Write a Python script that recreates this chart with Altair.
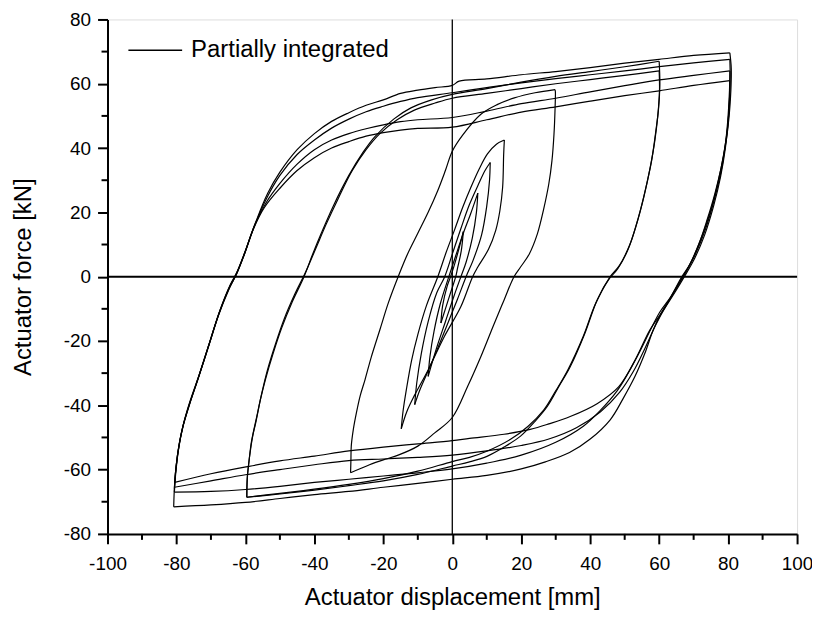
import altair as alt
import pandas as pd

# ---------------- data (x: displacement mm, y: force kN) ----
asc80_a = [(-80.6,-66),(-80.2,-60),(-79.2,-52),(-78,-46),(-76,-39),(-73.5,-31),(-70.5,-21),
           (-67.5,-11),(-64.5,-3),(-62.5,1),(-60,8),(-57,17),(-53.5,26),(-50,32.5),(-45,39.5),
           (-40,44.5),(-35,48.3),(-30,51),(-25,53.3),(-20,55),(-15,57),(-10,58),(-5,58.8),
           (0,59.5),(2,60.8),(10,61.5),(20,62.8),(30,63.8),(40,65),(50,66.4),(60,67.6),
           (70,68.8),(80.5,69.6)]
asc80_b = [(-80.8,-71.6),(-80.5,-64),(-79.5,-54),(-78.2,-47),(-76.3,-40),(-73.8,-32),
           (-70.8,-22),(-67.8,-12),(-64.8,-4),(-62.8,0.5),(-60.2,7.5),(-57.3,16),(-53.8,24.5),
           (-50,31.5),(-45,38),(-40,42.5),(-35,46.2),(-30,49),(-25,51.3),(-20,53),(-15,54.5),
           (-10,55.7),(0,57.2),(10,58.8),(20,60.3),(30,61.6),(40,62.8),(50,64),(60,65.3),
           (70,66.5),(80.5,67.6)]
asc80_c = [(-80.6,-67),(-80.2,-61),(-79.3,-53),(-78.1,-46.5),(-76.2,-39.5),(-73.7,-31.5),
           (-70.7,-21.5),(-67.7,-11.5),(-64.7,-3.5),(-62.7,0.5),(-60.3,7),(-57.5,15.5),
           (-54,23),(-50,29),(-45,35),(-40,39.5),(-35,42.5),(-30,44.5),(-25,46),(-20,47.2),
           (-15,48.2),(-10,48.8),(0,49.5),(10,51.5),(20,53.8),(30,55.5),(40,57.5),(50,59.4),
           (60,61.2),(70,62.6),(80.5,64)]
asc80_d = [(-80.5,-64),(-80.1,-59),(-79.1,-51.5),(-77.9,-45.5),(-76,-38.5),(-73.4,-30.5),
           (-70.4,-20.5),(-67.4,-10.5),(-64.4,-2.5),(-62.4,1.5),(-60.1,7.5),(-57.8,14.5),
           (-54.5,21.5),(-50,27.5),(-45,33),(-40,37),(-35,40),(-30,42),(-25,43.7),(-20,44.8),
           (-15,45.6),(-10,46.1),(0,46.5),(10,48.8),(20,51.2),(30,52.8),(40,54.6),(50,56.3),
           (60,57.8),(70,59.5),(80.5,61)]

desc80_a = [(80.5,69.6),(80.9,65),(80.8,58),(80.3,50),(79.4,42),(78,34),(76.2,26),(74,18),
            (71.5,10),(68.5,3),(66,-1.5),(63,-7),(60.5,-11.5),(58.3,-16.5),(55.8,-24),(53,-31),
            (49.5,-38),(45.8,-44.5),(40,-50.5),(34,-54.7),(27,-57.6),(20,-59.8),(10,-61.8),
            (0,-63),(-10,-64.3),(-20,-65.5),(-30,-66.8),(-40,-67.8),(-50,-69),(-60,-70.2),
            (-70,-71),(-80.8,-71.6)]
desc80_b = [(80.5,67.6),(80.6,62),(80.4,55),(79.8,46),(78.7,38),(77,29),(74.8,20),(72,11.5),
            (69,4),(66.3,-0.5),(63.5,-6),(60.2,-11),(57.5,-16.5),(54.5,-23),(51,-30),
            (47.8,-35.5),(43,-41.5),(38,-46.5),(30,-51.5),(20,-55.5),(10,-58),(0,-59.8),
            (-10,-61),(-20,-62),(-30,-63),(-40,-64),(-50,-65.2),(-60,-66.2),(-70,-66.8),
            (-80.6,-67)]
desc80_c = [(80.5,64),(80.4,58),(80,50),(79.3,42),(78,33),(76,24),(73.5,15),(70.5,7),
            (67.5,1),(64.8,-4),(62,-9),(59,-15),(56,-22),(52.5,-29.5),(48.5,-36),(43,-42),
            (36,-47),(28,-50.5),(20,-52.5),(10,-54.2),(0,-55.5),(-10,-56.2),(-20,-56.7),
            (-30,-57.2),(-40,-58.5),(-50,-60),(-60,-61.6),(-70,-63.5),(-80.6,-65.5)]
desc80_d = [(80.5,61),(80.4,55),(80,48),(79.2,40),(77.8,31),(75.8,22),(73.2,13),(70.2,5.5),
            (67.3,0),(64.5,-5),(61.5,-10),(57.3,-16.6),(53,-26),(48.3,-34.2),(42,-39.5),
            (34.2,-43.5),(28,-45.8),(22.6,-47.5),(15,-49),(5,-50.3),(0,-51),(-10,-52),
            (-20,-53),(-30,-54.2),(-40,-55.8),(-50,-57.3),(-59,-59),(-70,-61.3),(-80.5,-64)]

asc60_a = [(-59.6,-68.6),(-59.5,-63),(-59,-57.8),(-58.2,-51),(-57,-45.4),(-55.7,-38.5),
           (-54.2,-32),(-52,-24),(-49.5,-16),(-46.5,-8),(-43,0),(-40.5,7),(-38,13.5),
           (-34.5,22),(-30,31.5),(-26,38.5),(-22.5,43.5),(-17,49),(-12,52.5),(-6,55),(0,56.7),
           (10,58.5),(20,60.5),(30,62.3),(40,63.8),(50,65.3),(60,67)]
asc60_b = [(-59.6,-68.6),(-59.4,-62),(-58.8,-56),(-57.8,-49),(-56.6,-43),(-55.2,-36),
           (-53.6,-29),(-51.3,-21),(-48.7,-13),(-45.7,-5.5),(-42.5,1.5),(-39.5,9),(-36.5,16.5),
           (-33,24.5),(-29,33),(-25,39.5),(-21,44.5),(-16,48.8),(-11,51.8),(-5,54),(0,55.5),
           (10,57),(20,58.5),(30,60),(40,61.3),(50,62.6),(60,64)]
desc60_a = [(60,67),(60.2,60),(59.8,52),(59,45),(57.8,36),(56,27),(54,18.5),(51.5,10),
            (48.5,3.5),(45.8,0),(42,-7.3),(38.5,-17.5),(34.2,-28),(31,-34),(27.6,-40.3),
            (24,-45),(19.8,-49.6),(15,-53),(10.2,-55.8),(5,-57.6),(0,-58.9),(-10,-61.5),
            (-20,-63.5),(-30,-65),(-40,-66.4),(-50,-67.6),(-59.6,-68.6)]
desc60_b = [(60,64),(60.1,58),(59.6,50),(58.7,42),(57.4,34),(55.6,25),(53.5,16.5),(51,8.5),
            (48,2.5),(45.3,-1),(41.5,-8.5),(38,-18.5),(33.5,-29),(30,-35.5),(26.5,-41.5),
            (22,-46.5),(17,-50.5),(10,-54.3),(5,-56.2),(0,-57.5),(-10,-60.5),(-20,-62.8),
            (-30,-64.6),(-40,-66.1),(-50,-67.4),(-59.6,-68.6)]

asc30 = [(-29.5,-61),(-29.4,-57),(-29.3,-52.7),(-28.7,-47.5),(-27.8,-42.3),(-26.7,-37),
         (-25.3,-32),(-23.5,-25),(-21,-16.5),(-18.5,-8),(-15.7,0),(-13,7),(-10,13.5),(-7,20),
         (-4.2,26.8),(-2,33),(0,39),(3,44),(8.3,50.5),(13,53.5),(18,55.6),(24,57.2),(29.8,58.2)]
desc30 = [(29.8,58.2),(29.9,57.5),(29.8,52),(29.5,44.4),(28.9,36),(28,28.9),(26.5,21),
          (24.7,13.4),(22.3,7),(19.8,3),(17.9,0),(15,-7.3),(12,-15),(8.3,-24.8),(4.5,-34),
          (0,-43.8),(-5,-48.5),(-10,-52.7),(-15.7,-55.5),(-19.5,-56.8),(-24,-58.5),(-29.5,-61)]

asc15 = [(-14.8,-47.3),(-14.3,-42),(-13.3,-35),(-11.8,-26),(-10,-18),(-7.5,-9),(-4.2,0),
         (-1.8,7.5),(0.6,14.4),(3,21.5),(5.4,27.8),(7.8,33.5),(10.2,38.2),(12.8,41.2),(15.1,42.5)]
desc15 = [(15.1,42.5),(14.9,38),(14.6,27.8),(13.8,20.5),(12.6,14.4),(10.5,8.5),(7.4,3),
          (5.9,0),(2.5,-9.3),(-2.3,-18.6),(-7,-29),(-11,-37),(-13.2,-42),(-14.8,-47.3)]
asc11 = [(-10.9,-39.8),(-10.3,-33),(-9,-24),(-7,-14),(-4.5,-5),(-2.2,0),(0,7),(2.5,15),
         (5,22.5),(7.5,28.5),(9.5,33),(11,35.5)]
desc11 = [(11,35.5),(10.8,30),(10,22),(8.5,13),(6,5),(4,0),(1.5,-7),(-1.5,-15),(-4.5,-23),
          (-7.5,-30.5),(-9.5,-35.5),(-10.9,-39.8)]
asc7 = [(-7,-31),(-6.5,-25),(-5.3,-17),(-3.5,-8.5),(-1,0),(1,6.5),(3.2,13.5),(5.3,19.5),(7.4,26)]
desc7 = [(7.4,26),(7,20),(5.8,12),(4,4.5),(2.5,0),(0.5,-6),(-2,-14),(-4.5,-22),(-7,-31)]
asc3 = [(-3.3,-14.4),(-2.8,-9),(-1.5,-3),(-0.5,0),(0.7,4),(2,9),(3.2,14)]
desc3 = [(3.2,14),(2.6,8),(1.5,2.5),(1,0),(-0.5,-5),(-2,-10),(-3.3,-14.4)]

branches = {
    "asc3": asc3, "desc3": desc3, "asc7": asc7, "desc7": desc7,
    "asc11": asc11, "desc11": desc11, "asc15": asc15, "desc15": desc15,
    "asc30": asc30, "desc30": desc30,
    "asc60_a": asc60_a, "desc60_a": desc60_a, "asc60_b": asc60_b, "desc60_b": desc60_b,
    "asc80_a": asc80_a, "desc80_a": desc80_a, "asc80_b": asc80_b, "desc80_b": desc80_b,
    "asc80_c": asc80_c, "desc80_c": desc80_c, "asc80_d": asc80_d, "desc80_d": desc80_d,
}
series_name = "Partially integrated"
x_major = [-100, -80, -60, -40, -20, 0, 20, 40, 60, 80, 100]
x_minor = [-90, -70, -50, -30, -10, 10, 30, 50, 70, 90]
y_major = [-80, -60, -40, -20, 0, 20, 40, 60, 80]
y_minor = [-70, -50, -30, -10, 10, 30, 50, 70]

rows = []
for name, pts in branches.items():
    for i, (xv, yv) in enumerate(pts):
        rows.append({"branch": name, "i": i, "x": xv, "y": yv, "series": series_name})
df = pd.DataFrame(rows)

W, H = 693, 517
FONT = "Liberation Sans"
xs = alt.Scale(domain=[-100, 100], nice=False, zero=False)
ys = alt.Scale(domain=[-80, 80], nice=False, zero=False)

xaxis = alt.Axis(values=x_major, title="Actuator displacement [mm]", labelExpr="'' + datum.value",
                 grid=False, tickSize=10, tickWidth=2, domainWidth=2, domainColor="black",
                 tickColor="black", labelFontSize=19, labelFont=FONT, labelColor="black",
                 labelPadding=11, labelFlush=False, labelOverlap=False,
                 titleFontSize=24, titleFont=FONT, titleFontWeight="normal",
                 titleColor="black", titlePadding=12)
yaxis = alt.Axis(values=y_major, title="Actuator force [kN]", labelExpr="'' + datum.value",
                 grid=False, tickSize=10, tickWidth=2, domainWidth=2, domainColor="black",
                 tickColor="black", labelFontSize=19, labelFont=FONT, labelColor="black",
                 labelPadding=7, labelFlush=False, labelOverlap=False,
                 titleFontSize=24, titleFont=FONT, titleFontWeight="normal",
                 titleColor="black", titlePadding=28)

lines = alt.Chart(df).mark_line(strokeWidth=1.2, interpolate="catmull-rom").encode(
    x=alt.X("x:Q", scale=xs, axis=xaxis),
    y=alt.Y("y:Q", scale=ys, axis=yaxis),
    detail="branch:N",
    order="i:Q",
    color=alt.Color("series:N", scale=alt.Scale(domain=[series_name], range=["black"]),
                    legend=alt.Legend(title=None, orient="none", legendX=20, legendY=3,
                                      symbolType="stroke", symbolSize=2916,
                                      symbolStrokeWidth=1.5, symbolStrokeColor="black",
                                      labelFontSize=24, labelFont=FONT, labelColor="black",
                                      labelOffset=8, labelLimit=0, padding=0)),
)

zero_h = alt.Chart(pd.DataFrame({"y": [0]})).mark_rule(color="black", strokeWidth=2).encode(
    y=alt.Y("y:Q", scale=ys))
zero_v = alt.Chart(pd.DataFrame({"x": [0]})).mark_rule(color="black", strokeWidth=1.3).encode(
    x=alt.X("x:Q", scale=xs))

xminor = alt.Chart(pd.DataFrame({"x": x_minor})).mark_rule(color="black", strokeWidth=2).encode(
    x=alt.X("x:Q", scale=xs), y=alt.value(H), y2=alt.value(H + 6))
yminor = alt.Chart(pd.DataFrame({"y": y_minor})).mark_rule(color="black", strokeWidth=2).encode(
    y=alt.Y("y:Q", scale=ys), x=alt.value(0), x2=alt.value(-6))

chart = alt.layer(zero_h, zero_v, lines, xminor, yminor).properties(
    width=W, height=H,
    padding={"left": 100, "top": 10, "right": 15, "bottom": 80},
    autosize=alt.AutoSizeParams(type="none"),
).configure_view(stroke="black", strokeWidth=2).configure(background="white")

chart.save("out.html", embed_options={"renderer": "svg", "actions": False})
